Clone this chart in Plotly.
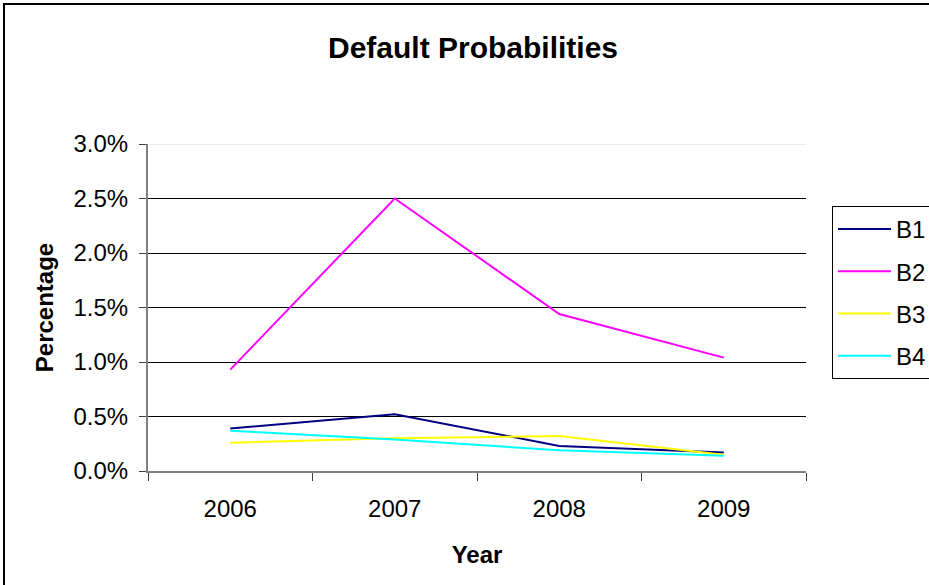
import plotly.graph_objects as go

years = ["2006", "2007", "2008", "2009"]
b1 = [0.0039, 0.0052, 0.0023, 0.0017]
b2 = [0.0093, 0.0250, 0.0144, 0.0104]
b3 = [0.0026, 0.0030, 0.0032, 0.0015]
b4 = [0.0037, 0.0029, 0.0019, 0.0014]
names = ["B1", "B2", "B3", "B4"]
colors = ["#000080", "#FF00FF", "#FFFF00", "#00FFFF"]
series = [b1, b2, b3, b4]
yticks = [0, 0.005, 0.01, 0.015, 0.02, 0.025, 0.03]

W, H = 929, 585
L, R, T, B = 148, 123, 144, 114
pw, ph = W - L - R, H - T - B

fig = go.Figure()
for n, c, s in zip(names, colors, series):
    fig.add_trace(go.Scatter(x=years, y=s, name=n, mode="lines",
                             line=dict(color=c, width=2), legendgroup=n))

font = "Arial, Liberation Sans, sans-serif"
fig.update_layout(
    width=W, height=H,
    margin=dict(l=L, r=R, t=T, b=B, autoexpand=False),
    paper_bgcolor="white", plot_bgcolor="white",
    font=dict(family=font, size=24, color="black"),
    title=dict(text="<b>Default Probabilities</b>", x=473 / W, xanchor="center",
               y=1 - 47 / H, yanchor="middle", font=dict(size=30)),
    showlegend=True,
    legend=dict(xref="container", yref="container",
                x=832 / W, y=1 - 206 / H, xanchor="left", yanchor="top",
                bordercolor="black", borderwidth=1, bgcolor="white",
                font=dict(size=24), tracegroupgap=8, traceorder="grouped",
                itemwidth=53),
    xaxis=dict(type="category", showgrid=False, showline=True, linecolor="#808080",
               linewidth=2, ticks="outside", tickson="boundaries", ticklen=8,
               tickcolor="#404040", tickwidth=1, ticklabelstandoff=15,
               title=dict(text="<b>Year</b>", font=dict(size=24), standoff=25),
               tickfont=dict(size=24), range=[-0.5, 3.5]),
    yaxis=dict(range=[0, 0.03], tickvals=yticks, tickformat=".1%",
               showgrid=True, gridcolor="black", gridwidth=1,
               showline=True, linecolor="#808080", linewidth=2,
               ticks="outside", ticklen=7, tickcolor="#404040",
               zeroline=False, ticklabelstandoff=6,
               title=dict(text="<b>Percentage</b>", font=dict(size=24), standoff=13),
               tickfont=dict(size=24)),
)

# light top gridline as in reference
fig.add_shape(type="line", xref="paper", yref="y", x0=0.002, x1=1, y0=0.03, y1=0.03,
              line=dict(color="#e6e6e6", width=1.5), layer="above")

# outer chart border (cropped at right/bottom)
fig.add_shape(type="rect", xref="paper", yref="paper",
              x0=(4 - L) / pw, x1=(W + 20 - L) / pw,
              y0=-(B + 20) / ph, y1=1 + (T - 4) / ph,
              line=dict(color="black", width=2), layer="above")

fig.write_html("out.html", config={"displayModeBar": False},
               post_script="document.body.style.margin='0';")
